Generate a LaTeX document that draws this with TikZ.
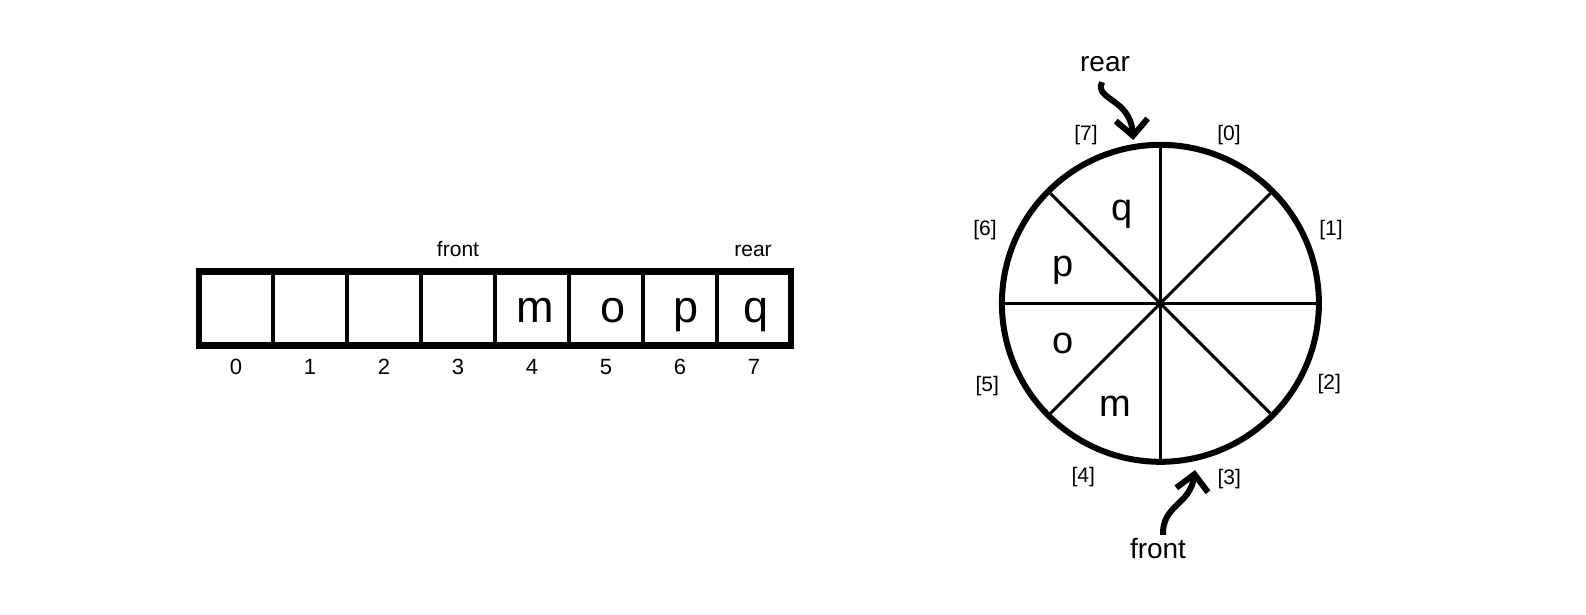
\documentclass[tikz,border=0pt]{standalone}
\usepackage{fontspec}
\setmainfont{Liberation Sans}
\usetikzlibrary{arrows.meta}
\begin{document}
\begin{tikzpicture}[x=1pt,y=-1pt,
  cellbox/.style={draw, line width=3.3pt, minimum width=74pt, minimum height=73.6pt, inner sep=0pt, outer sep=0pt},
  bigletter/.style={font=\fontsize{45}{54}\selectfont, inner sep=0pt, anchor=base},
  ringletter/.style={font=\fontsize{38}{46}\selectfont, inner sep=0pt, anchor=base},
  idx/.style={font=\fontsize{22}{26}\selectfont, inner sep=0pt, anchor=base},
  tag/.style={font=\fontsize{21}{25}\selectfont, inner sep=0pt, anchor=base},
  slotlbl/.style={font=\fontsize{21}{25}\selectfont, inner sep=0pt},
  ptrlbl/.style={font=\fontsize{28}{34}\selectfont, inner sep=0pt, anchor=base},
  ptrarrow/.style={line width=6pt, -{Straight Barb[length=16pt,width=32pt]}},
]
\useasboundingbox[fill=white] (0,0) rectangle (1586,614);

% ---- linear array ----
\foreach \i in {0,...,7}
  \node[cellbox] (c\i) at ({199+74*(\i+0.5)},308.5) {};
\draw[line width=6.7pt] (c0.north west) rectangle (c7.south east);
\foreach \i in {0,...,7}
  \node[idx] (d\i) at ({199+74*(\i+0.5)},374) {\i};
\node[tag] (afront) at (458,256) {front};
\node[tag] (arear) at (753,256) {rear};
\node[bigletter] (am) at (535.3,322.5) {m};
\node[bigletter] (ao) at (613.3,322.5) {o};
\node[bigletter] (ap) at (686,322.5) {p};
\node[bigletter] (aq) at (755.8,322.5) {q};

% ---- circular buffer ----
\node[circle, draw, line width=6pt, minimum size=317pt, inner sep=0pt, outer sep=0pt] (C) at (1160.4,303.3) {};
\foreach \a in {0,45,...,315}
  \draw[line width=3pt] (C.center) -- (C.\a);
\node[ringletter] (rq) at (1121.7,220) {q};
\node[ringletter] (rp) at (1063.3,276.7) {p};
\node[ringletter] (ro) at (1062.7,353.3) {o};
\node[ringletter] (rm) at (1115.7,416.7) {m};

\node[slotlbl] (s0) at (1229,135) {[0]};
\node[slotlbl] (s1) at (1331,230) {[1]};
\node[slotlbl] (s2) at (1329.3,384.3) {[2]};
\node[slotlbl] (s3) at (1229.3,479.3) {[3]};
\node[slotlbl] (s4) at (1083.3,476.7) {[4]};
\node[slotlbl] (s5) at (987.3,386) {[5]};
\node[slotlbl] (s6) at (985,230) {[6]};
\node[slotlbl] (s7) at (1086,135) {[7]};

% ---- pointers ----
\node[ptrlbl] (rear) at (1105,71.7) {rear};
\node[ptrlbl] (front) at (1158,558.3) {front};
\coordinate (rtip) at (1133.3,140);
\coordinate (ftip) at (1195,470);
\draw[ptrarrow] ([xshift=-3pt,yshift=-10pt]rear.south) .. controls (1094,100) and (1130,98) .. (rtip);
\draw[ptrarrow] ([xshift=5pt,yshift=3pt]front.north) .. controls (1162,505) and (1190,505) .. (ftip);
\end{tikzpicture}
\end{document}
